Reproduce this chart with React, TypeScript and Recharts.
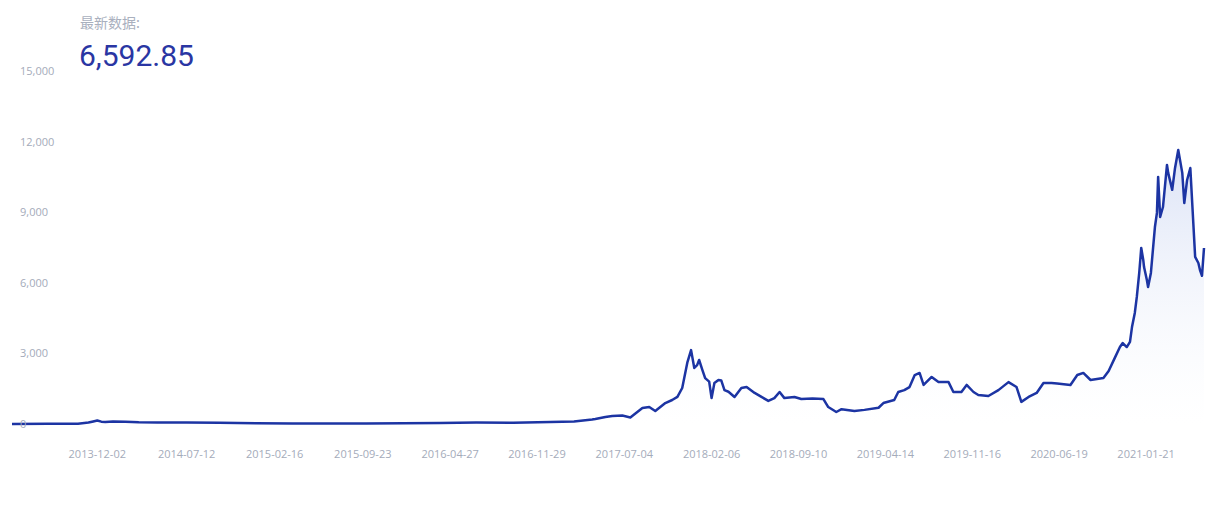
import { Area, AreaChart, XAxis, YAxis } from "recharts";

const dates = [
  "2013-05-04", "2013-08-01", "2013-10-15", "2013-11-10", "2013-11-22", "2013-12-02",
  "2013-12-12", "2013-12-22", "2014-01-10", "2014-02-10", "2014-03-15", "2014-05-01",
  "2014-07-12", "2014-10-01", "2015-01-01", "2015-04-01", "2015-07-01", "2015-10-01",
  "2016-01-01", "2016-04-01", "2016-07-01", "2016-10-01", "2017-01-01", "2017-03-01",
  "2017-04-15", "2017-04-23", "2017-05-18", "2017-06-04", "2017-06-29", "2017-07-19",
  "2017-08-18", "2017-09-04", "2017-09-19", "2017-10-14", "2017-10-31", "2017-11-13",
  "2017-11-25", "2017-12-08", "2017-12-17", "2017-12-25", "2018-01-01", "2018-01-06",
  "2018-01-14", "2018-01-21", "2018-01-31", "2018-02-06", "2018-02-13", "2018-02-23",
  "2018-03-02", "2018-03-10", "2018-03-20", "2018-04-04", "2018-04-21", "2018-05-04",
  "2018-05-24", "2018-06-10", "2018-06-27", "2018-07-12", "2018-07-25", "2018-08-06",
  "2018-08-31", "2018-09-17", "2018-10-15", "2018-11-11", "2018-11-23", "2018-12-13",
  "2018-12-26", "2019-01-27", "2019-02-21", "2019-03-28", "2019-04-09", "2019-05-06",
  "2019-05-16", "2019-05-31", "2019-06-13", "2019-06-26", "2019-07-08", "2019-07-18",
  "2019-08-07", "2019-08-24", "2019-09-18", "2019-09-30", "2019-10-20", "2019-11-02",
  "2019-11-19", "2019-12-01", "2019-12-26", "2020-01-20", "2020-02-14", "2020-03-05",
  "2020-03-17", "2020-04-04", "2020-04-24", "2020-05-11", "2020-05-31", "2020-06-14",
  "2020-07-17", "2020-08-03", "2020-08-18", "2020-09-05", "2020-10-07", "2020-10-20",
  "2020-11-04", "2020-11-17", "2020-11-24", "2020-12-04", "2020-12-12", "2020-12-17",
  "2020-12-24", "2020-12-29", "2021-01-04", "2021-01-09", "2021-01-14", "2021-01-16",
  "2021-01-23", "2021-01-26", "2021-02-02", "2021-02-07", "2021-02-12", "2021-02-17",
  "2021-02-20", "2021-02-25", "2021-03-04", "2021-03-14", "2021-03-17", "2021-03-27",
  "2021-04-03", "2021-04-11", "2021-04-21", "2021-04-26", "2021-05-03", "2021-05-11",
  "2021-05-23", "2021-05-31", "2021-06-04", "2021-06-09", "2021-06-14",
];

const values = [
  5, 8, 15, 60, 110, 150,
  100, 85, 110, 100, 75, 60,
  65, 50, 30, 25, 25, 20,
  30, 40, 60, 50, 80, 110,
  190, 210, 300, 340, 360, 280,
  680, 720, 550, 890, 1020, 1150,
  1530, 2630, 3140, 2380, 2500, 2720,
  2300, 1950, 1800, 1100, 1740, 1870,
  1850, 1440, 1370, 1150, 1530, 1570,
  1320, 1150, 980, 1100, 1360, 1100,
  1150, 1060, 1080, 1060, 720, 510,
  630, 550, 600, 690, 890, 1020,
  1360, 1440, 1570, 2080, 2170, 1660,
  2000, 1780, 1780, 1360, 1360, 1660,
  1360, 1230, 1190, 1440, 1780, 1570,
  940, 1150, 1320, 1740, 1740, 1720,
  1660, 2080, 2170, 1870, 1950, 2250,
  2800, 3270, 3440, 3270, 3490, 4120,
  4720, 5400, 6420, 7480, 6970, 6670,
  6120, 5820, 6420, 7400, 8370, 8970,
  10500, 8800, 9220, 11010, 10670, 9950,
  10880, 11640, 10670, 9390, 10370, 10880,
  7100, 6840, 6540, 6300, 7480,
];

const xTickLabels = [
  "2013-12-02", "2014-07-12", "2015-02-16", "2015-09-23", "2016-04-27", "2016-11-29",
  "2017-07-04", "2018-02-06", "2018-09-10", "2019-04-14", "2019-11-16", "2020-06-19",
  "2021-01-21",
];

const yTicks = [0, 3000, 6000, 9000, 12000, 15000];

const latestLabel = "最新数据:";
const latestValue = "6,592.85";

const toTime = (d: string) => {
  const [y, m, day] = d.split("-").map(Number);
  return Date.UTC(y, m - 1, day);
};

const chartData = dates.map((d, i) => ({ t: toTime(d), value: values[i] }));
const xTicks = xTickLabels.map(toTime);

const formatDate = (t: number) => new Date(t).toISOString().slice(0, 10);

const tickColor = "#a4abba";
const tickFont = "'Open Sans', 'Noto Sans CJK SC', sans-serif";

function YTick(props: any) {
  const { y, payload } = props;
  return (
    <text
      x={20}
      y={y}
      dy={4}
      textAnchor="start"
      fill={tickColor}
      fontSize={11}
      fontFamily={tickFont}
    >
      {Number(payload.value).toLocaleString("en-US")}
    </text>
  );
}

export default function App() {
  return (
    <div
      style={{
        position: "absolute",
        left: 0,
        top: 0,
        width: 1207,
        height: 506,
        background: "#fff",
      }}
    >
      <AreaChart
        width={1207}
        height={506}
        data={chartData}
        margin={{ top: 71, right: 3, bottom: 42, left: 0 }}
      >
        <defs>
          <linearGradient id="areaFill" x1="0" y1="0" x2="0" y2="1">
            <stop offset="0%" stopColor="#c4d0f0" stopOpacity={1} />
            <stop offset="100%" stopColor="#ffffff" stopOpacity={0.3} />
          </linearGradient>
        </defs>
        <XAxis
          dataKey="t"
          type="number"
          scale="time"
          domain={["dataMin", "dataMax"]}
          ticks={xTicks}
          tickFormatter={formatDate}
          axisLine={false}
          tickLine={false}
          tickMargin={20}
          height={40}
          interval={0}
          tick={{ fill: tickColor, fontSize: 11, fontFamily: tickFont }}
        />
        <YAxis
          width={12}
          domain={[0, 15000]}
          ticks={yTicks}
          axisLine={false}
          tickLine={false}
          tick={YTick}
          interval={0}
        />
        <Area
          type="linear"
          dataKey="value"
          stroke="#1c34a3"
          strokeWidth={2.5}
          strokeLinejoin="round"
          fill="url(#areaFill)"
          dot={false}
          activeDot={false}
          isAnimationActive={false}
        />
      </AreaChart>
      <div
        style={{
          position: "absolute",
          left: 80,
          top: 12,
          fontSize: 14,
          color: "#a9b0be",
          fontFamily: "'Noto Sans CJK SC', sans-serif",
          lineHeight: "20px",
        }}
      >
        {latestLabel}
      </div>
      <div
        style={{
          position: "absolute",
          left: 79,
          top: 38,
          fontSize: 30,
          color: "#2a36a3",
          fontFamily: "Roboto, sans-serif",
          lineHeight: "36px",
        }}
      >
        {latestValue}
      </div>
    </div>
  );
}
